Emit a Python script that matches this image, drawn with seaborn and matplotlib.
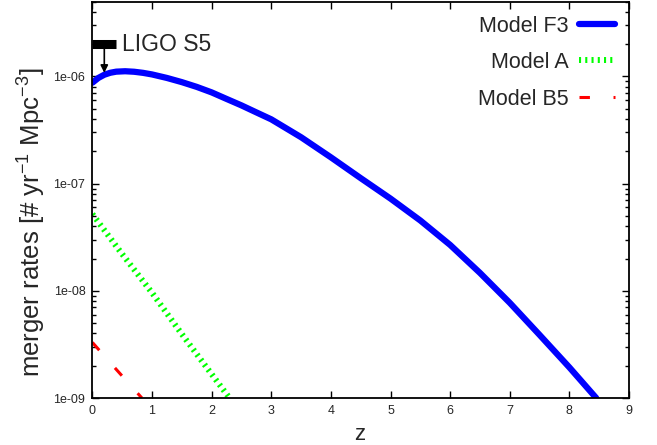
import numpy as np
import pandas as pd
import matplotlib
matplotlib.use('Agg')
import matplotlib.pyplot as plt
import matplotlib.ticker as mticker
import seaborn as sns

# values
z_f3 = [0.0, 0.1, 0.2, 0.3, 0.4, 0.55, 0.7, 0.85, 1.0, 1.25, 1.5, 1.75, 2.0, 2.25, 2.5, 2.75,
        3.0, 3.5, 4.0, 4.5, 5.0, 5.5, 6.0, 6.5, 7.0, 7.5, 8.0, 8.45]
rate_f3 = [8.74e-7, 9.68e-7, 1.037e-6, 1.082e-6, 1.108e-6, 1.118e-6, 1.106e-6, 1.08e-6, 1.044e-6,
           9.68e-7, 8.85e-7, 7.99e-7, 7.1e-7, 6.17e-7, 5.37e-7, 4.62e-7, 3.98e-7, 2.71e-7,
           1.76e-7, 1.125e-7, 7.25e-8, 4.53e-8, 2.68e-8, 1.47e-8, 7.73e-9, 3.88e-9, 1.93e-9, 1.0e-9]
z_a = [0.0, 0.5, 1.0, 1.5, 2.0, 2.3]
rate_a = [5.2e-8, 2.2e-8, 9.6e-9, 3.95e-9, 1.67e-9, 1.0e-9]
z_b5 = [0.0, 0.4, 0.83]
rate_b5 = [3.3e-9, 1.85e-9, 1.0e-9]
ligo_z = [0.0, 0.4]
ligo_rate = 2.0e-6
ligo_arrow_to = 1.08e-6

x_ticks = list(range(0, 10))
y_ticks = [1e-9, 1e-8, 1e-7, 1e-6]
y_tick_labels = ['1e-09', '1e-08', '1e-07', '1e-06']

sns.set_style('ticks')
plt.rcParams['font.family'] = ['Liberation Sans', 'DejaVu Sans']
plt.rcParams['lines.scale_dashes'] = False

fig, ax = plt.subplots(figsize=(6.57, 4.45), dpi=100)
fig.subplots_adjust(left=0.1406, right=0.9574, top=0.9966, bottom=0.1056)

sns.lineplot(x=z_f3, y=rate_f3, ax=ax, color='#0000ff', linewidth=4.5, label='Model F3')
sns.lineplot(x=z_a, y=rate_a, ax=ax, color='#00ff00', linewidth=4.3, label='Model A')
sns.lineplot(x=z_b5, y=rate_b5, ax=ax, color='#ff0000', linewidth=2.2, label='Model B5')
ax.lines[0].set_solid_joinstyle('round')
ax.lines[1].set_dashes([1.5, 3.0])
ax.lines[2].set_dashes([7.5, 17])

# LIGO S5 upper limit
ax.plot(ligo_z, [ligo_rate, ligo_rate], color='black', linewidth=6.5, solid_capstyle='butt')
ax.annotate('', xy=(np.mean(ligo_z), ligo_arrow_to), xytext=(np.mean(ligo_z), ligo_rate),
            arrowprops=dict(arrowstyle='-|>', color='black', lw=1.2, mutation_scale=11,
                            shrinkA=0, shrinkB=0))
ax.text(ligo_z[1] + 0.09, ligo_rate, 'LIGO S5', fontsize=16.5, va='center', ha='left')

ax.set_yscale('log')
ax.set_xlim(0, 9)
ax.set_ylim(1e-9, 5e-6)
ax.set_xticks(x_ticks)
ax.set_xticklabels([str(t) for t in x_ticks], fontsize=9)
ax.set_yticks(y_ticks)
ax.set_yticklabels(y_tick_labels, fontsize=9)
ax.yaxis.set_minor_locator(mticker.LogLocator(base=10, subs=np.arange(2, 10)))
ax.yaxis.set_minor_formatter(mticker.NullFormatter())
ax.tick_params(which='both', direction='in', top=True, right=True, color='black', width=1)
ax.tick_params(which='major', length=5, pad=5)
ax.tick_params(which='minor', length=3)
for s in ax.spines.values():
    s.set_visible(True)
    s.set_color('black')
    s.set_linewidth(1.3)

ax.set_xlabel('z', fontsize=16)
ax.set_ylabel(r'merger rates [# yr$^{\mathregular{-1}}$ Mpc$^{\mathregular{-3}}$]', fontsize=18.5)
ax.xaxis.set_label_coords(0.499, -0.066)
ax.yaxis.set_label_coords(-0.084, 0.444)

ax.legend(loc='upper right', frameon=False, markerfirst=False, fontsize=15.5,
          handlelength=1.65, labelspacing=0.72, borderaxespad=0.25, handletextpad=0.5)

plt.savefig('out.png', dpi=100)
